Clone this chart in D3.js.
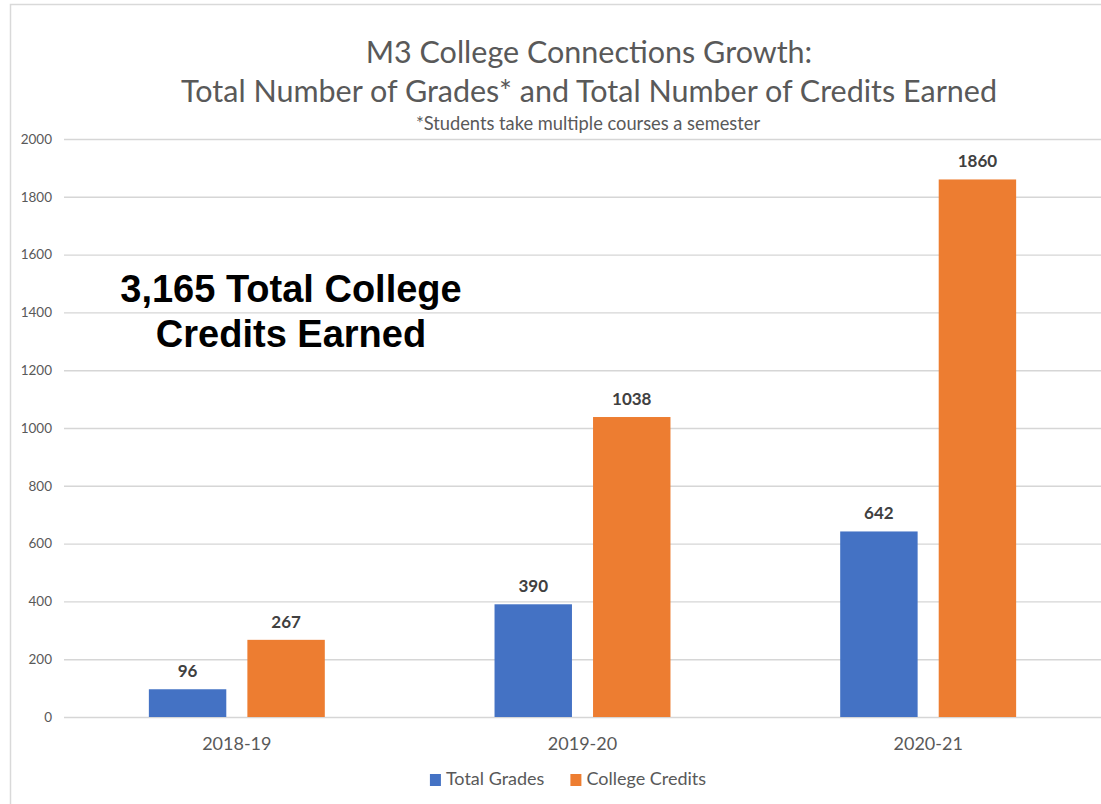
<!DOCTYPE html>
<html>
<head>
<meta charset="utf-8">
<script src="https://cdn.jsdelivr.net/npm/d3@7"></script>
<style>
  body { margin: 0; background: #fff; }
  svg { display: block; font-family: Lato, "Open Sans", sans-serif; }
</style>
</head>
<body>
<svg id="chart" width="1101" height="804"></svg>
<script>
const years = ['2018-19', '2019-20', '2020-21']
const seriesNames = ['Total Grades', 'College Credits']
const totalGrades = [96, 390, 642]
const collegeCredits = [267, 1038, 1860]
const yTicks = [0, 200, 400, 600, 800, 1000, 1200, 1400, 1600, 1800, 2000]
const colors = ['#4472C4', '#ED7D31']

const titleLines = ['M3 College Connections Growth:', 'Total Number of Grades* and Total Number of Credits Earned']
const subtitle = '*Students take multiple courses a semester'
const callout = ['3,165 Total College', 'Credits Earned']

const svg = d3.select('svg#chart')
const [sizeX, sizeY] = [1101, 804]
const textColor = '#595959'
const gridColor = '#d9d9d9'

// chart frame (cropped on right and bottom)
svg.append('path')
  .attr('d', `M10.5,${sizeY} V4.5 H${sizeX}`)
  .attr('fill', 'none')
  .attr('stroke', gridColor)
  .attr('stroke-width', 1.5)

const x0 = d3.scaleBand().domain(years).range([64, 1101]).paddingInner(0.491).paddingOuter(0.2455)
const x1 = d3.scaleBand().domain(seriesNames).range([0, x0.bandwidth()]).paddingInner(0.214)
const y = d3.scaleLinear().domain([0, 2000]).range([717, 139])

// gridlines + y labels
const yAxis = svg.append('g')
  .attr('transform', 'translate(64,0)')
  .call(d3.axisLeft(y).tickValues(yTicks).tickSize(-(1101 - 64)).tickPadding(12).tickFormat(d3.format('d')))
yAxis.select('.domain').remove()
yAxis.selectAll('.tick line').attr('stroke', '#d6d6d6').attr('stroke-width', 1.4)
yAxis.selectAll('.tick text')
  .attr('fill', textColor)
  .style('font-size', '13.5px')
  .style('font-family', 'Lato, sans-serif')

// x labels
const xAxis = svg.append('g')
  .attr('transform', 'translate(0,717)')
  .call(d3.axisBottom(x0).tickSize(0).tickPadding(20))
xAxis.select('.domain').remove()
xAxis.selectAll('.tick text')
  .attr('fill', textColor)
  .style('font-size', '18px')
  .style('font-family', 'Lato, sans-serif')

const rows = years.map((yr, i) => ({
  year: yr,
  values: [
    { key: seriesNames[0], value: totalGrades[i], color: colors[0] },
    { key: seriesNames[1], value: collegeCredits[i], color: colors[1] }
  ]
}))

const groups = svg.selectAll('.group')
  .data(rows)
  .enter()
  .append('g')
  .attr('transform', d => `translate(${x0(d.year)},0)`)

groups.selectAll('rect')
  .data(d => d.values)
  .enter()
  .append('rect')
  .attr('x', d => x1(d.key))
  .attr('width', x1.bandwidth())
  .attr('y', d => y(d.value))
  .attr('height', d => y(0) - y(d.value))
  .attr('fill', d => d.color)

groups.selectAll('.value-label')
  .data(d => d.values)
  .enter()
  .append('text')
  .attr('x', d => x1(d.key) + x1.bandwidth() / 2)
  .attr('y', d => y(d.value) - 12)
  .attr('text-anchor', 'middle')
  .attr('fill', '#404040')
  .style('font-size', '17px')
  .style('font-weight', 'bold')
  .text(d => d.value)

// title
svg.append('g').selectAll('text')
  .data(titleLines)
  .enter()
  .append('text')
  .attr('x', 589)
  .attr('y', (_, i) => 63 + i * 39)
  .attr('text-anchor', 'middle')
  .attr('fill', textColor)
  .style('font-size', '30.5px')
  .style('font-weight', 400)
  .text(d => d)

svg.append('text')
  .attr('x', 588)
  .attr('y', 130)
  .attr('text-anchor', 'middle')
  .attr('fill', textColor)
  .style('font-size', '18.3px')
  .text(subtitle)

// callout
svg.append('g').selectAll('text')
  .data(callout)
  .enter()
  .append('text')
  .attr('x', 291)
  .attr('y', (_, i) => 302 + i * 45)
  .attr('text-anchor', 'middle')
  .attr('fill', '#000')
  .style('font-family', '"Liberation Sans", Arial, sans-serif')
  .style('font-size', '38px')
  .style('font-weight', 'bold')
  .text(d => d)

// legend
const legend = svg.append('g').attr('transform', 'translate(0,785)')
const items = legend.selectAll('.legend-item')
  .data(seriesNames)
  .enter()
  .append('g')
items.append('rect')
  .attr('y', -11)
  .attr('width', 11)
  .attr('height', 12)
  .attr('fill', (_, i) => colors[i])
items.append('text')
  .attr('x', 16)
  .attr('fill', textColor)
  .style('font-size', '18px')
  .text(d => d)
let offset = 0
const widths = []
items.each(function () { widths.push(16 + this.querySelector('text').getComputedTextLength()) })
const total = d3.sum(widths) + 26
const startX = 568 - total / 2
items.attr('transform', (_, i) => {
  const tx = startX + offset
  offset += widths[i] + 26
  return `translate(${tx},0)`
})
</script>
</body>
</html>
